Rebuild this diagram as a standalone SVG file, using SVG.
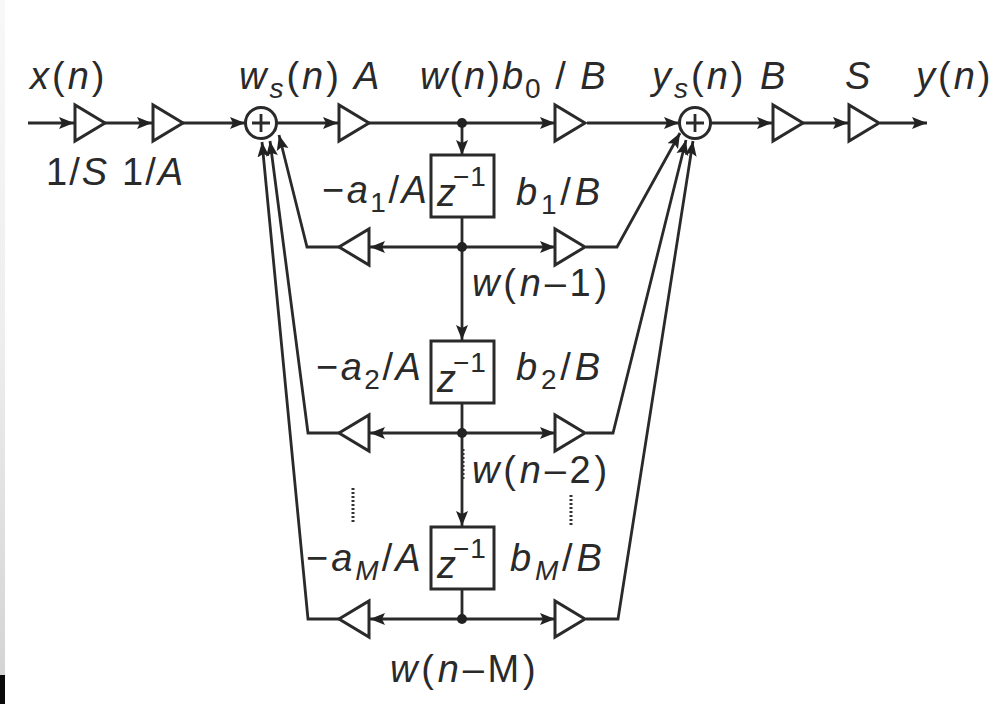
<svg xmlns="http://www.w3.org/2000/svg" width="1000" height="704" viewBox="0 0 1000 704">
<defs>
<linearGradient id="edge" x1="0" x2="0" y1="0" y2="1"><stop offset="0" stop-color="#f8f8f8"/><stop offset="0.5" stop-color="#eeeeee"/><stop offset="1" stop-color="#d4d4d4"/></linearGradient>
<marker id="ah" markerUnits="userSpaceOnUse" markerWidth="18" markerHeight="14" refX="15" refY="7" orient="auto"><path d="M0 1L15 7L0 13L3 7Z" fill="#222"/></marker>
</defs>
<style>
.l{fill:none;stroke:#2a2a2a;stroke-width:2.800}
.a{marker-end:url(#ah)}
.n{fill:#fff;stroke:#2a2a2a;stroke-width:3}
.d{fill:#222}
.dot{fill:none;stroke:#333;stroke-width:3;stroke-dasharray:2 2}
text{font-family:"Liberation Sans",Arial,sans-serif;font-size:38px;fill:#2a2a2a;letter-spacing:3px}
.i{font-style:italic}
.s{font-size:28px}
.e{font-size:28px;letter-spacing:1px}
.t{letter-spacing:2px}
.m{letter-spacing:2.500px}
.w{letter-spacing:3.800px}
.z{letter-spacing:0}
</style>
<rect width="1000" height="704" fill="#fff"/>
<rect x="0" y="0" width="5" height="675" fill="url(#edge)"/>
<rect x="0" y="675" width="5" height="29" fill="#0a0a0a"/>
<g id="connectors">
<path class="l a" d="M28 123H74"/>
<path class="l a" d="M105 123H152"/>
<path class="l a" d="M183 123H245"/>
<path class="l a" d="M277 123H338"/>
<path class="l a" d="M369 123H555"/>
<path class="l a" d="M587 123H679"/>
<path class="l a" d="M711 123H772"/>
<path class="l a" d="M803 123H848"/>
<path class="l a" d="M880 123H927"/>
<path class="l a" d="M462 123V155"/>
<path class="l a" d="M462 217V340"/>
<path class="l a" d="M462 403V526"/>
<path class="l" d="M462 589V619"/>
<path class="l a" d="M462 247H370"/><path class="l a" d="M462 247H555"/>
<path class="l a" d="M462 433H370"/><path class="l a" d="M462 433H555"/>
<path class="l a" d="M462 619H370"/><path class="l a" d="M462 619H555"/>
<path class="l a" d="M339 247H307L279 135"/>
<path class="l a" d="M339 433H308L270 141"/>
<path class="l a" d="M339 619H308L262 142"/>
<path class="l a" d="M586 247H617L680 133"/>
<path class="l a" d="M586 433H613L686 140"/>
<path class="l a" d="M586 619H618L693 141"/>
<circle class="d" cx="462" cy="123" r="5"/>
<circle class="d" cx="462" cy="247" r="5"/>
<circle class="d" cx="462" cy="433" r="5"/>
<circle class="d" cx="462" cy="619" r="5"/>
<path class="dot" d="M463 449V480"/>
<path class="dot" d="M353 488V522"/>
<path class="dot" d="M571 495V527"/>
</g>
<g id="gain-1s"><path class="n" d="M75 105V141L105 123Z"/><text class="t" x="46" y="185">1/<tspan class="i">S</tspan></text></g>
<g id="gain-1a"><path class="n" d="M153 105V141L183 123Z"/><text class="t" x="122" y="185">1/<tspan class="i">A</tspan></text></g>
<g id="sum-w"><circle class="n" cx="261" cy="123" r="15.500"/><path class="l" d="M252 123H270M261 114V132"/></g>
<g id="gain-a"><path class="n" d="M339 105V141L369 123Z"/><text class="i z" x="354" y="89">A</text></g>
<g id="gain-b0"><path class="n" d="M555 105V141L585 123Z"/></g>
<g id="sum-y"><circle class="n" cx="695" cy="123" r="15.500"/><path class="l" d="M686 123H704M695 114V132"/></g>
<g id="gain-b"><path class="n" d="M773 105V141L803 123Z"/><text class="i z" x="760" y="89">B</text></g>
<g id="gain-s"><path class="n" d="M849 105V141L879 123Z"/><text class="i z" x="845" y="89">S</text></g>
<g id="delay-1"><rect class="n" x="431" y="155" width="63" height="62"/><text class="i z" x="437" y="206">z</text><text class="e" x="453" y="186">−1</text></g>
<g id="delay-2"><rect class="n" x="431" y="341" width="63" height="62"/><text class="i z" x="437" y="392">z</text><text class="e" x="453" y="372">−1</text></g>
<g id="delay-m"><rect class="n" x="431" y="527" width="63" height="62"/><text class="i z" x="437" y="578">z</text><text class="e" x="453" y="558">−1</text></g>
<g id="gain-a1"><path class="n" d="M369 229V265L339 247Z"/><text class="m" x="322" y="203">−<tspan class="i">a</tspan><tspan class="s" dy="9">1</tspan><tspan dy="-9">/</tspan><tspan class="i">A</tspan></text></g>
<g id="gain-b1"><path class="n" d="M555 229V265L585 247Z"/><text class="w" x="516" y="205"><tspan class="i">b</tspan><tspan class="s" dy="9">1</tspan><tspan dy="-9">/</tspan><tspan class="i">B</tspan></text></g>
<g id="gain-a2"><path class="n" d="M369 415V451L339 433Z"/><text class="m" x="316" y="380">−<tspan class="i">a</tspan><tspan class="s" dy="9">2</tspan><tspan dy="-9">/</tspan><tspan class="i">A</tspan></text></g>
<g id="gain-b2"><path class="n" d="M555 415V451L585 433Z"/><text class="w" x="516" y="380"><tspan class="i">b</tspan><tspan class="s" dy="9">2</tspan><tspan dy="-9">/</tspan><tspan class="i">B</tspan></text></g>
<g id="gain-am"><path class="n" d="M369 601V637L339 619Z"/><text x="306" y="571">−<tspan class="i">a</tspan><tspan class="s i" dy="9">M</tspan><tspan dy="-9">/</tspan><tspan class="i">A</tspan></text></g>
<g id="gain-bm"><path class="n" d="M555 601V637L585 619Z"/><text class="w" x="510" y="571"><tspan class="i">b</tspan><tspan class="s i" dy="9">M</tspan><tspan dy="-9">/</tspan><tspan class="i">B</tspan></text></g>
<g id="labels">
<text x="30" y="89"><tspan class="i">x</tspan>(<tspan class="i">n</tspan>)</text>
<text x="239" y="89"><tspan class="i">w</tspan><tspan class="s i" dy="9">s</tspan><tspan dy="-9">(</tspan><tspan class="i">n</tspan>)</text>
<text class="t" x="420" y="89"><tspan class="i">w</tspan>(<tspan class="i">n</tspan>)<tspan class="i">b</tspan><tspan class="s" dy="9">0</tspan><tspan dy="-9"> / </tspan><tspan class="i">B</tspan></text>
<text x="652" y="89"><tspan class="i">y</tspan><tspan class="s i" dy="9">s</tspan><tspan dy="-9">(</tspan><tspan class="i">n</tspan>)</text>
<text x="916" y="89"><tspan class="i">y</tspan>(<tspan class="i">n</tspan>)</text>
<text class="w" x="472" y="296"><tspan class="i">w</tspan>(<tspan class="i">n</tspan>–1)</text>
<text class="w" x="472" y="483"><tspan class="i">w</tspan>(<tspan class="i">n</tspan>–2)</text>
<text class="w" x="390" y="682"><tspan class="i">w</tspan>(<tspan class="i">n</tspan>–M)</text>
</g>
</svg>
